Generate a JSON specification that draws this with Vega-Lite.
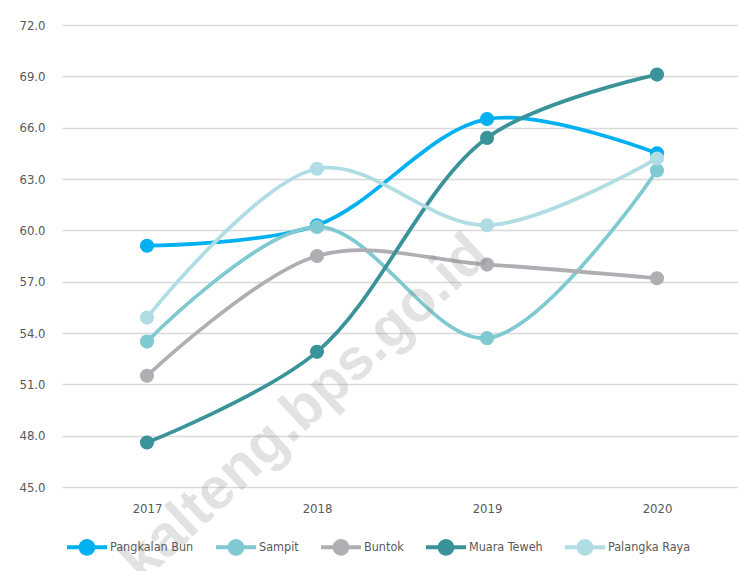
{
  "$schema": "https://vega.github.io/schema/vega-lite/v6.json",
  "width": 680,
  "height": 462,
  "autosize": "none",
  "padding": {"left": 62, "top": 25, "right": 0, "bottom": 84},
  "background": "white",
  "config": {
    "view": {"stroke": null},
    "font": "DejaVu Sans Condensed, Liberation Sans, sans-serif"
  },
  "datasets": {
    "ipm": [
      {"kota": "Pangkalan Bun", "tahun": 2017, "nilai": 59.1},
      {"kota": "Pangkalan Bun", "tahun": 2018, "nilai": 60.3},
      {"kota": "Pangkalan Bun", "tahun": 2019, "nilai": 66.5},
      {"kota": "Pangkalan Bun", "tahun": 2020, "nilai": 64.5},
      {"kota": "Sampit", "tahun": 2017, "nilai": 53.5},
      {"kota": "Sampit", "tahun": 2018, "nilai": 60.2},
      {"kota": "Sampit", "tahun": 2019, "nilai": 53.7},
      {"kota": "Sampit", "tahun": 2020, "nilai": 63.5},
      {"kota": "Buntok", "tahun": 2017, "nilai": 51.5},
      {"kota": "Buntok", "tahun": 2018, "nilai": 58.5},
      {"kota": "Buntok", "tahun": 2019, "nilai": 58.0},
      {"kota": "Buntok", "tahun": 2020, "nilai": 57.2},
      {"kota": "Muara Teweh", "tahun": 2017, "nilai": 47.6},
      {"kota": "Muara Teweh", "tahun": 2018, "nilai": 52.9},
      {"kota": "Muara Teweh", "tahun": 2019, "nilai": 65.4},
      {"kota": "Muara Teweh", "tahun": 2020, "nilai": 69.1},
      {"kota": "Palangka Raya", "tahun": 2017, "nilai": 54.9},
      {"kota": "Palangka Raya", "tahun": 2018, "nilai": 63.6},
      {"kota": "Palangka Raya", "tahun": 2019, "nilai": 60.3},
      {"kota": "Palangka Raya", "tahun": 2020, "nilai": 64.2}
    ],
    "wm": [
      {"label": "kalteng.bps.go.id", "tahun": 2017.93, "nilai": 49.6}
    ]
  },
  "layer": [
    {
      "data": {"name": "ipm"},
      "mark": {"type": "line", "interpolate": "catmull-rom", "strokeWidth": 3.75},
      "encoding": {
        "x": {"field": "tahun", "type": "quantitative",
              "scale": {"domain": [2016.5, 2020.5], "nice": false, "zero": false},
              "axis": {"values": [2017, 2018, 2019, 2020], "format": "d", "grid": false, "domain": false, "ticks": false,
                       "labelPadding": 15, "labelFontSize": 13, "labelColor": "#595959", "title": null}},
        "y": {"field": "nilai", "type": "quantitative",
              "scale": {"domain": [45, 72], "nice": false, "zero": false},
              "axis": {"values": [45, 48, 51, 54, 57, 60, 63, 66, 69, 72], "format": ".1f", "grid": true,
                       "gridColor": "#d9d9d9", "gridWidth": 1.3, "domain": false, "ticks": false,
                       "labelPadding": 17, "labelFontSize": 13, "labelColor": "#595959", "title": null}},
        "color": {"field": "kota", "type": "nominal",
                  "scale": {"domain": ["Pangkalan Bun", "Sampit", "Buntok", "Muara Teweh", "Palangka Raya"],
                            "range": ["#00B0F0", "#7FC9D0", "#AEAEB3", "#3A9399", "#B0DDE3"]},
                  "legend": {"orient": "none", "legendX": 5, "legendY": 502, "direction": "horizontal", "title": null,
                             "symbolType": "M-1,-0.1H1V0.1H-1Z M-0.42,0A0.42,0.42,0,1,1,0.42,0A0.42,0.42,0,1,1,-0.42,0Z",
                             "symbolSize": 1600, "symbolStrokeWidth": 0, "labelFontSize": 12.5, "labelColor": "#595959",
                             "labelOffset": 3, "columnPadding": 22, "padding": 0,
                             "encode": {"symbols": {"update": {"fill": {"scale": "color", "field": "value"},
                                                               "stroke": {"value": "transparent"},
                                                               "opacity": {"value": 1}}}}}}
      }
    },
    {
      "data": {"name": "ipm"},
      "mark": {"type": "point", "filled": true, "size": 200, "opacity": 1},
      "encoding": {
        "x": {"field": "tahun", "type": "quantitative"},
        "y": {"field": "nilai", "type": "quantitative"},
        "color": {"field": "kota", "type": "nominal"}
      }
    },
    {
      "data": {"name": "wm"},
      "mark": {"type": "text", "angle": -43, "fontSize": 58, "fontWeight": "bold", "font": "Liberation Sans",
               "fill": "#808080", "opacity": 0.22, "align": "center", "baseline": "middle"},
      "encoding": {
        "x": {"field": "tahun", "type": "quantitative"},
        "y": {"field": "nilai", "type": "quantitative"},
        "text": {"field": "label"}
      }
    }
  ]
}
